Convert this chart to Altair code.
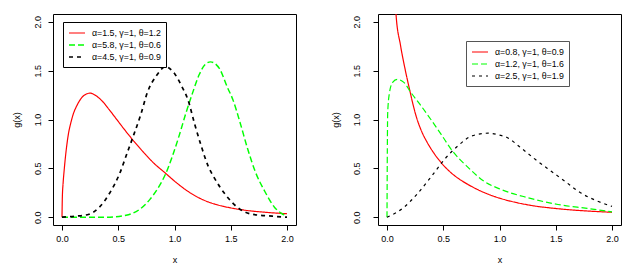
import altair as alt
import pandas as pd

# ---------------- data ----------------
L_LABELS = ["α=1.5, γ=1, θ=1.2", "α=5.8, γ=1, θ=0.6", "α=4.5, γ=1, θ=0.9"]
R_LABELS = ["α=0.8, γ=1, θ=0.9", "α=1.2, γ=1, θ=1.6", "α=2.5, γ=1, θ=1.9"]
COLORS = ["#FF0000", "#00FF00", "#000000"]
TICKS = [0, 0.5, 1, 1.5, 2]

# left panel
l_red_x = [0.0, 0.003, 0.01, 0.02, 0.05, 0.086, 0.14, 0.20, 0.25, 0.30, 0.36, 0.42, 0.49, 0.56,
           0.63, 0.72, 0.81, 0.92, 1.01, 1.10, 1.19, 1.28, 1.37, 1.50, 1.65, 1.81, 2.0]
l_red_y = [0.0, 0.20, 0.35, 0.49, 0.80, 1.00, 1.16, 1.25, 1.27, 1.245, 1.185, 1.10, 0.995, 0.89,
           0.79, 0.67, 0.56, 0.45, 0.36, 0.28, 0.215, 0.165, 0.13, 0.095, 0.068, 0.05, 0.035]

l_green_x = [0.0, 0.39, 0.57, 0.69, 0.78, 0.86, 0.92, 0.98, 1.04, 1.10, 1.16, 1.22, 1.27, 1.32,
             1.40, 1.47, 1.52, 1.58, 1.65, 1.72, 1.80, 1.89, 1.95, 2.0]
l_green_y = [0.0, 0.0, 0.02, 0.08, 0.18, 0.31, 0.44, 0.62, 0.83, 1.06, 1.27, 1.46, 1.56, 1.59,
             1.52, 1.33, 1.20, 0.98, 0.70, 0.46, 0.27, 0.10, 0.04, 0.01]

l_black_x = [0.0, 0.12, 0.24, 0.33, 0.42, 0.51, 0.58, 0.64, 0.70, 0.76, 0.84, 0.92, 1.0, 1.06,
             1.12, 1.18, 1.24, 1.30, 1.35, 1.46, 1.56, 1.69, 1.87, 2.0]
l_black_y = [0.0, 0.01, 0.03, 0.10, 0.24, 0.44, 0.66, 0.85, 1.05, 1.28, 1.45, 1.54, 1.47, 1.35,
             1.20, 0.95, 0.72, 0.52, 0.41, 0.22, 0.10, 0.03, 0.01, 0.0]

# right panel
r_red_x = [0.07, 0.08, 0.12, 0.16, 0.20, 0.23, 0.26, 0.30, 0.36, 0.42, 0.48, 0.55, 0.63, 0.72,
           0.81, 0.90, 1.0, 1.15, 1.31, 1.45, 1.61, 1.80, 2.0]
r_red_y = [2.30, 2.08, 1.76, 1.52, 1.31, 1.16, 1.03, 0.90, 0.76, 0.65, 0.56, 0.475, 0.40, 0.335,
           0.28, 0.235, 0.195, 0.15, 0.115, 0.095, 0.077, 0.062, 0.05]

r_green_x = [0.0, 0.003, 0.006, 0.02, 0.05, 0.09, 0.15, 0.21, 0.29, 0.39, 0.48, 0.58, 0.72,
             0.86, 1.0, 1.25, 1.52, 1.78, 2.0]
r_green_y = [0.0, 0.70, 1.06, 1.26, 1.38, 1.41, 1.38, 1.28, 1.16, 1.00, 0.85, 0.68, 0.51,
             0.37, 0.29, 0.20, 0.13, 0.09, 0.055]

r_black_x = [0.0, 0.15, 0.27, 0.39, 0.51, 0.63, 0.75, 0.90, 1.0, 1.06, 1.19, 1.32, 1.46, 1.59,
             1.72, 1.86, 2.0]
r_black_y = [0.0, 0.10, 0.24, 0.41, 0.59, 0.73, 0.83, 0.86, 0.84, 0.82, 0.71, 0.59, 0.47, 0.36,
             0.25, 0.17, 0.11]

FONT = "Liberation Sans"


def make_df(labels, xs_list, ys_list):
    rows = []
    for lab, xs, ys in zip(labels, xs_list, ys_list):
        for i, (x, y) in enumerate(zip(xs, ys)):
            rows.append({"series": lab, "x": x, "y": y, "i": i})
    return pd.DataFrame(rows)


def panel(df, labels, widths, dashes, lx, ly, lstroke, ylab_pad, ytitle_pad):
    legend = alt.Legend(
        title=None, orient="none", legendX=lx, legendY=ly,
        symbolType="M-1.6,0H1.6", symbolSize=100,
        labelFont=FONT, labelFontSize=8.8, labelColor="black",
        strokeColor=lstroke, fillColor="white", padding=5,
        rowPadding=1, labelOffset=9, symbolOffset=3, cornerRadius=0,
    )
    return alt.Chart(df).mark_line(clip=True, interpolate="monotone").encode(
        x=alt.X("x:Q", scale=alt.Scale(domain=[-0.08, 2.08], nice=False, zero=False),
                axis=alt.Axis(values=TICKS, format=".1f", title="x", domain=False, grid=False,
                              tickSize=5, tickColor="black", labelPadding=4, titlePadding=12,
                              labelFontSize=9, titleFontSize=9, labelFont=FONT, titleFont=FONT,
                              labelColor="black", titleColor="black",
                              titleFontWeight="normal", labelFlush=False)),
        y=alt.Y("y:Q", scale=alt.Scale(domain=[-0.08, 2.08], nice=False, zero=False),
                axis=alt.Axis(values=TICKS, format=".1f", title="g(x)", domain=False, grid=False,
                              tickSize=5, tickColor="black", labelPadding=ylab_pad,
                              titlePadding=ytitle_pad, labelAngle=270, labelAlign="center",
                              labelBaseline="bottom",
                              labelFontSize=9, titleFontSize=9, labelFont=FONT, titleFont=FONT,
                              labelColor="black", titleColor="black",
                              titleFontWeight="normal", labelFlush=False)),
        color=alt.Color("series:N", scale=alt.Scale(domain=labels, range=COLORS), legend=legend),
        strokeDash=alt.StrokeDash("series:N", scale=alt.Scale(domain=labels, range=dashes),
                                  legend=legend),
        strokeWidth=alt.StrokeWidth("series:N", scale=alt.Scale(domain=labels, range=widths),
                                    legend=legend),
        order="i:Q",
    ).properties(width=243, height=211)


left_df = make_df(L_LABELS, [l_red_x, l_green_x, l_black_x], [l_red_y, l_green_y, l_black_y])
right_df = make_df(R_LABELS, [r_red_x, r_green_x, r_black_x], [r_red_y, r_green_y, r_black_y])

left = panel(left_df, L_LABELS, [1.2, 1.7, 1.3], [[1, 0], [6, 3], [4, 4]], 10, 8, "black", 6, 12)
right = panel(right_df, R_LABELS, [1.2, 1.2, 1.2], [[1, 0], [6, 3], [3, 4]], 88, 27, "#555555", 12, 12)

chart = alt.hconcat(left, right, spacing=33).resolve_scale(
    color="independent", strokeDash="independent", strokeWidth="independent"
).resolve_legend(
    color="independent", strokeDash="independent", strokeWidth="independent"
).configure_view(stroke="black", strokeWidth=1).properties(
    padding={"left": 3, "top": 5, "right": 5, "bottom": 5}, background="white"
)

chart.save("out.html", embed_options={"renderer": "svg", "actions": False})
